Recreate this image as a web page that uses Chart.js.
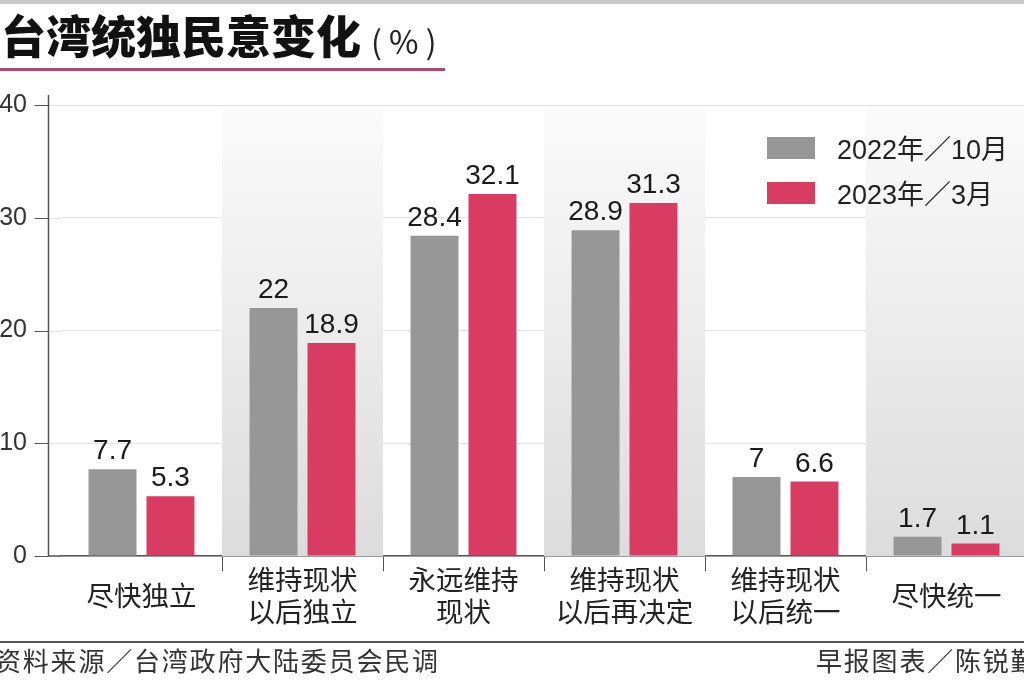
<!DOCTYPE html>
<html>
<head>
<meta charset="utf-8">
<script src="https://cdn.jsdelivr.net/npm/chart.js@4/dist/chart.umd.min.js"></script>
<style>
  body { margin: 0; width: 1024px; height: 682px; overflow: hidden; background: #fff; position: relative; }
  #c { position: absolute; left: 0; top: 0; width: 1027px; height: 682px; }
  #topbar { position: absolute; left: 0; top: 0; width: 1024px; height: 4px; background: #c9c9c9; }
  #title { position: absolute; left: 1px; top: 12px; font: 900 45px/46px "Noto Sans CJK SC"; color: #111; white-space: nowrap; }
  #title span { font-weight: 400; font-size: 32px; color: #222; margin-left: 10px; }
  #rule { position: absolute; left: 0; top: 68px; width: 445px; height: 3px; background: #b04a6c; }
  #legend { position: absolute; left: 767px; top: 125px; font: 27px "Liberation Sans", "Noto Sans CJK SC"; color: #222; }
  .item { display: flex; align-items: center; height: 45px; }
  .box { width: 48px; height: 22px; margin-right: 22px; }
  #footline { position: absolute; left: 0; top: 641px; width: 1024px; height: 2px; background: #555; }
  .foot { position: absolute; top: 645px; font: 26px/30px "Noto Sans CJK SC"; color: #333; letter-spacing: 1.8px; white-space: nowrap; }
</style>
</head>
<body>
<canvas id="c" width="1027" height="682"></canvas>
<div id="topbar"></div>
<div id="title">台湾统独民意变化<span>( % )</span></div>
<div id="rule"></div>
<div id="legend"></div>
<div id="footline"></div>
<div class="foot" style="left:-5px">资料来源／台湾政府大陆委员会民调</div>
<div class="foot" style="left:816px">早报图表／陈锐勤</div>
<script>
const categories = ['尽快独立', ['维持现状', '以后独立'], ['永远维持', '现状'], ['维持现状', '以后再决定'], ['维持现状', '以后统一'], '尽快统一']
const seriesNames = ['2022年／10月', '2023年／3月']
const oct2022 = [7.7, 22, 28.4, 28.9, 7, 1.7]
const mar2023 = [5.3, 18.9, 32.1, 31.3, 6.6, 1.1]
const yTicks = [0, 10, 20, 30, 40]
const colors = ['#979797', '#d83c63']

// legend lives in html, built from the same names/colours
const legend = document.getElementById('legend')
seriesNames.forEach((name, i) => {
    legend.innerHTML += `<div class="item"><div class="box" style="background:${colors[i]}"></div>${name}</div>`
})

const axisX = 48.5

// shaded columns, the y axis sitting left of the plot and value labels
const frame = {
    id: 'frame',
    beforeDatasetsDraw(chart) {
        const {ctx, chartArea: a, scales: {x, y}} = chart
        const top = y.getPixelForValue(40)
        const bottom = y.getPixelForValue(0)
        const w = x.getPixelForValue(1) - x.getPixelForValue(0)
        ctx.save()
        const g = ctx.createLinearGradient(0, top, 0, bottom)
        g.addColorStop(0, '#fbfbfb')
        g.addColorStop(1, '#dcdcdc')
        ctx.fillStyle = g
        categories.forEach((c, i) => {
            if (i % 2 === 1) ctx.fillRect(x.getPixelForValue(i) - w / 2, top + 1, w, bottom - top - 1)
        })
        ctx.lineWidth = 1
        y.ticks.forEach(t => {
            const py = Math.round(y.getPixelForValue(t.value)) + 0.5
            ctx.strokeStyle = '#e2e2e2'
            ctx.beginPath(); ctx.moveTo(axisX, py); ctx.lineTo(a.left, py); ctx.stroke()
            ctx.strokeStyle = '#555'
            ctx.beginPath(); ctx.moveTo(axisX - 14, py); ctx.lineTo(axisX, py); ctx.stroke()
        })
        ctx.strokeStyle = '#555'
        ctx.lineWidth = 1.5
        ctx.beginPath(); ctx.moveTo(axisX, top - 10); ctx.lineTo(axisX, bottom); ctx.lineTo(a.left, bottom); ctx.stroke()
        ctx.restore()
    },
    afterDatasetsDraw(chart) {
        const ctx = chart.ctx
        ctx.save()
        ctx.font = '28px "Liberation Sans"'
        ctx.fillStyle = '#1a1a1a'
        ctx.textAlign = 'center'
        ctx.textBaseline = 'alphabetic'
        chart.data.datasets.forEach((ds, i) => {
            chart.getDatasetMeta(i).data.forEach((bar, j) => {
                ctx.fillText(String(ds.data[j]), bar.x, bar.y - 10)
            })
        })
        ctx.restore()
    }
}

new Chart(document.getElementById('c'), {
    type: 'bar',
    data: {
        labels: categories,
        datasets: [
            { label: seriesNames[0], data: oct2022, backgroundColor: colors[0] },
            { label: seriesNames[1], data: mar2023, backgroundColor: colors[1] }
        ]
    },
    options: {
        responsive: false,
        devicePixelRatio: 1,
        animation: false,
        categoryPercentage: 0.72,
        barPercentage: 0.828,
        layout: { padding: { top: 105, left: 0, right: 0, bottom: 0 } },
        plugins: { legend: { display: false }, tooltip: { enabled: false } },
        scales: {
            x: {
                afterFit: s => { s.height = 126 },
                grid: {
                    offset: true,
                    drawOnChartArea: false,
                    tickLength: 15,
                    tickColor: c => c.index === 0 ? 'rgba(0,0,0,0)' : '#555'
                },
                border: { color: '#555', width: 1.5 },
                ticks: {
                    color: '#222',
                    padding: 9,
                    crossAlign: 'center',
                    maxRotation: 0,
                    autoSkip: false,
                    font: { family: '"Noto Sans CJK SC"', size: 27.5, lineHeight: '32px' }
                }
            },
            y: {
                min: 0,
                max: 40,
                afterFit: s => { s.width = 61 },
                afterBuildTicks: s => { s.ticks = yTicks.map(v => ({ value: v })) },
                grid: { color: '#e2e2e2', drawTicks: false },
                border: { display: false },
                ticks: {
                    color: '#333',
                    padding: 34,
                    font: { family: '"Liberation Sans"', size: 25 }
                }
            }
        }
    },
    plugins: [frame]
})
</script>
</body>
</html>
